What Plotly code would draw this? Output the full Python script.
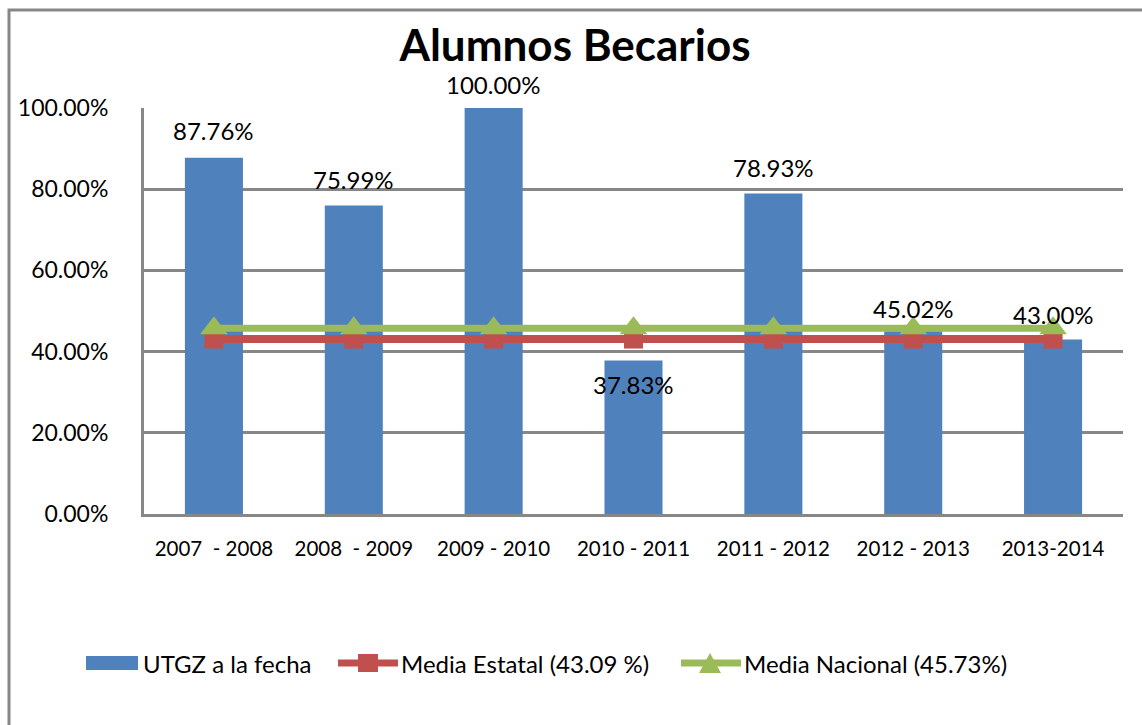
import plotly.graph_objects as go

categories = ["2007 \u00a0- 2008", "2008 \u00a0- 2009", "2009 - 2010", "2010 - 2011",
              "2011 - 2012", "2012 - 2013", "2013-2014"]
utgz = [87.76, 75.99, 100.00, 37.83, 78.93, 45.02, 43.00]
media_estatal = [43.09] * 7
media_nacional = [45.73] * 7
label_shift = [27, 26, 24, -24, 26, 23, 25]
y_ticks = [0, 20, 40, 60, 80, 100]
legend_names = ["UTGZ a la fecha", "Media Estatal (43.09 %)", "Media Nacional (45.73%)"]

FONT = "Lato"
BLUE = "#4F81BD"
RED = "#C0504D"
GREEN = "#9BBB59"
GRID = "#878787"

# plot area in pixels (for layout-only helpers)
L, R, T, B = 144, 1123, 108, 514


def px(x):
    return (x - L) / (R - L)


def py(y):
    return (B - y) / (B - T)


fig = go.Figure()
fig.add_trace(go.Bar(x=categories, y=utgz, name=legend_names[0],
                     marker=dict(color=BLUE, line=dict(width=0)), width=0.415))
fig.add_trace(go.Scatter(x=categories, y=media_estatal, name=legend_names[1],
                         mode="lines+markers", line=dict(color=RED, width=8),
                         marker=dict(symbol="square", size=19, color=RED)))
fig.add_trace(go.Scatter(x=categories, y=media_nacional, name=legend_names[2],
                         mode="lines+markers", line=dict(color=GREEN, width=7),
                         marker=dict(symbol="triangle-up", size=24, color=GREEN)))

for c, v, s in zip(categories, utgz, label_shift):
    fig.add_annotation(x=c, y=v, text=f"{v:.2f}%", showarrow=False, yshift=s,
                       font=dict(family=FONT, size=24, color="black"))

# outer chart border
fig.add_shape(type="rect", xref="paper", yref="paper",
              x0=px(9), x1=px(1300), y0=py(800), y1=py(10),
              line=dict(color=GRID, width=3), fillcolor="rgba(0,0,0,0)", layer="below")

# custom legend (layout decoration)
LY = 663
fig.add_shape(type="rect", xref="paper", yref="paper", x0=px(86), x1=px(138),
              y0=py(670), y1=py(656), fillcolor=BLUE, line=dict(width=0))
fig.add_shape(type="line", xref="paper", yref="paper", x0=px(338), x1=px(398),
              y0=py(LY), y1=py(LY), line=dict(color=RED, width=7))
fig.add_shape(type="rect", xref="paper", yref="paper", x0=px(358), x1=px(378),
              y0=py(672), y1=py(654), fillcolor=RED, line=dict(width=0))
fig.add_shape(type="line", xref="paper", yref="paper", x0=px(681), x1=px(741),
              y0=py(LY), y1=py(LY), line=dict(color=GREEN, width=7))
fig.add_shape(type="path", xref="paper", yref="paper",
              path=f"M {px(699)},{py(673)} L {px(721)},{py(673)} L {px(710)},{py(653)} Z",
              fillcolor=GREEN, line=dict(width=0))
for x0, name in zip([141, 399, 742], legend_names):
    fig.add_annotation(xref="paper", yref="paper", x=px(x0), y=py(LY), xanchor="left",
                       yanchor="middle", text=name, showarrow=False,
                       font=dict(family=FONT, size=24, color="black"))

fig.update_layout(
    width=1142, height=725,
    margin=dict(l=L, r=1142 - R, t=T, b=725 - B, autoexpand=False),
    paper_bgcolor="white", plot_bgcolor="white",
    font=dict(family=FONT, size=21, color="black"),
    title=dict(text="<b>Alumnos Becarios</b>", x=575 / 1142, xref="container", xanchor="center",
               y=1 - 46 / 725, yref="container", yanchor="middle",
               font=dict(family=FONT, size=44, color="black")),
    bargap=0.585,
    showlegend=False,
    xaxis=dict(showline=True, linecolor=GRID, linewidth=3, showgrid=False, automargin=False,
               ticks="", ticklabelstandoff=14, tickfont=dict(family=FONT, size=20.5)),
    yaxis=dict(range=[0, 100], tickvals=y_ticks, ticktext=[f"{t:.2f}%" for t in y_ticks],
               showline=True, linecolor=GRID, linewidth=3, automargin=False,
               showgrid=True, gridcolor=GRID, gridwidth=3, zeroline=False,
               ticks="", ticklabelstandoff=28, tickfont=dict(family=FONT, size=23)),
)

fig.write_html("out.html", config={"displayModeBar": False},
               post_script="document.body.style.margin='0';document.body.style.overflow='hidden';")
